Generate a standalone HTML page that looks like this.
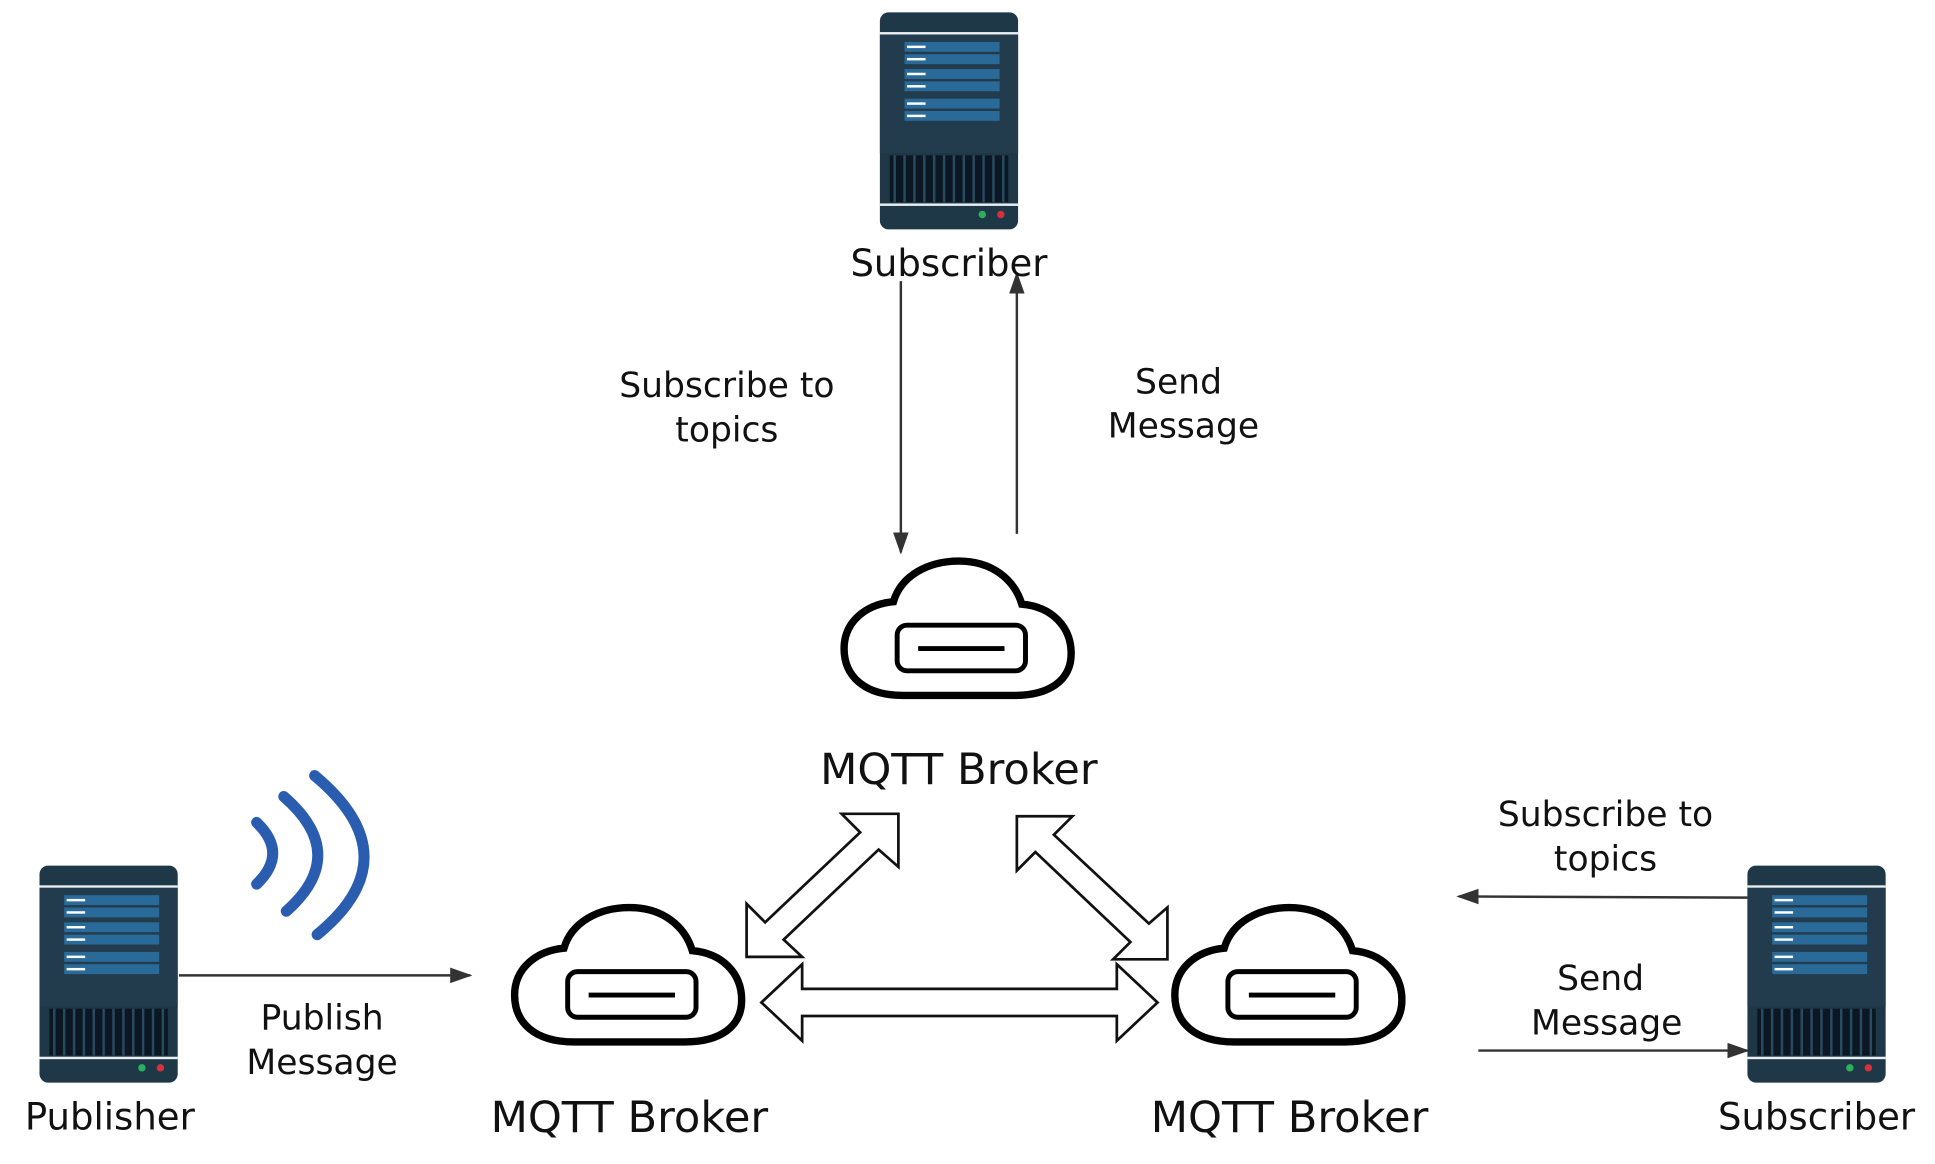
<!DOCTYPE html>
<html><head><meta charset="utf-8"><style>
html,body{margin:0;padding:0;background:#fff;}
svg{display:block;}
text{font-family:"DejaVu Sans","Liberation Sans",sans-serif;fill:#111;}
</style></head><body>
<svg width="1935" height="1164" viewBox="0 0 1568 944" preserveAspectRatio="none" xmlns="http://www.w3.org/2000/svg">
<defs>
<marker id="ah2" viewBox="0 0 10 10" refX="9" refY="5" markerWidth="18" markerHeight="18" markerUnits="userSpaceOnUse" orient="auto"><path d="M0,1.5 L10,5 L0,8.5 Z" fill="#333"/></marker>
<g id="srv">
<rect x="0" y="0" width="112" height="176" rx="7" fill="#1f3848"/>
<rect x="0" y="16" width="112" height="2" fill="#e8eef2"/>
<rect x="0" y="18" width="112" height="96" fill="#223c4d"/>
<g fill="#2a6a98">
<rect x="20" y="24" width="77" height="8"/><rect x="20" y="34" width="77" height="8"/>
<rect x="20" y="46" width="77" height="8"/><rect x="20" y="56" width="77" height="8"/>
<rect x="20" y="70" width="77" height="8"/><rect x="20" y="80" width="77" height="8"/>
</g>
<g fill="#fff">
<rect x="22" y="27" width="15" height="2"/><rect x="22" y="37" width="15" height="2"/>
<rect x="22" y="49" width="15" height="2"/><rect x="22" y="59" width="15" height="2"/>
<rect x="22" y="73" width="15" height="2"/><rect x="22" y="83" width="15" height="2"/>
</g>
<rect x="8" y="116" width="96" height="38" fill="#0b1722"/>
<g stroke="#2a4a60" stroke-width="2">
<line x1="12" y1="116" x2="12" y2="154"/><line x1="20" y1="116" x2="20" y2="154"/><line x1="28" y1="116" x2="28" y2="154"/><line x1="36" y1="116" x2="36" y2="154"/><line x1="44" y1="116" x2="44" y2="154"/><line x1="52" y1="116" x2="52" y2="154"/><line x1="60" y1="116" x2="60" y2="154"/><line x1="68" y1="116" x2="68" y2="154"/><line x1="76" y1="116" x2="76" y2="154"/><line x1="84" y1="116" x2="84" y2="154"/><line x1="92" y1="116" x2="92" y2="154"/><line x1="100" y1="116" x2="100" y2="154"/>
</g>
<rect x="0" y="155" width="112" height="2" fill="#e8eef2"/>
<circle cx="83" cy="164" r="3" fill="#2eb05a"/><circle cx="98" cy="164" r="3" fill="#d8303a"/>
</g>
<g id="cloud">
<path d="M50,112 C18,112 2,96 2,74 C2,52 20,38 42,36 C48,15 70,3 95,3 C122,3 140,18 146,38 C170,40 186,56 186,78 C186,100 168,112 140,112 Z" fill="#fff" stroke="#000" stroke-width="6"/>
<rect x="45" y="55" width="104" height="37" rx="8" fill="none" stroke="#000" stroke-width="4"/>
<line x1="62" y1="74" x2="132" y2="74" stroke="#000" stroke-width="4"/>
</g>
</defs>

<use href="#srv" x="713" y="10"/>
<use href="#srv" x="32" y="702"/>
<use href="#srv" x="1416" y="702"/>

<use href="#cloud" x="682" y="452"/>
<use href="#cloud" x="415" y="733"/>
<use href="#cloud" x="950" y="733"/>

<g fill="none" stroke="#2a5db0" stroke-width="9" stroke-linecap="round">
<path d="M208,667 Q234,692 208,717"/>
<path d="M230,646 Q284,693 232,739"/>
<path d="M255,629 Q334,695 257,758"/>
</g>

<g stroke="#333" stroke-width="2" fill="none">
<line x1="730" y1="228" x2="730" y2="448" marker-end="url(#ah2)"/>
<line x1="824" y1="433" x2="824" y2="222" marker-end="url(#ah2)"/>
<line x1="145" y1="791" x2="381" y2="791" marker-end="url(#ah2)"/>
<line x1="1416" y1="728" x2="1182" y2="727" marker-end="url(#ah2)"/>
<line x1="1198" y1="852" x2="1416" y2="852" marker-end="url(#ah2)"/>
</g>

<g fill="#fff" stroke="#111" stroke-width="2.2" stroke-linejoin="miter">
<polygon points="728,660 728,703 712,689 635,762 650,776 605,776 605,733 620,748 697,675 682,660"/>
<polygon points="824,662 869,662 854,677 931,749 946,736 946,778 902,778 916,764 839,691 824,706"/>
<polygon points="617,813 650,782 650,802 905,802 905,782 938,813 905,844 905,824 650,824 650,844"/>
</g>

<g text-anchor="middle">
<text x="769" y="224" font-size="30">Subscriber</text>
<text x="777" y="636" font-size="35">MQTT Broker</text>
<text x="510" y="918" font-size="35">MQTT Broker</text>
<text x="1045" y="918" font-size="35">MQTT Broker</text>
<text x="89" y="916" font-size="30">Publisher</text>
<text x="1472" y="916" font-size="30">Subscriber</text>
<text x="589" y="322" font-size="28">Subscribe to</text>
<text x="589" y="358" font-size="28">topics</text>
<text x="955" y="319" font-size="28">Send</text>
<text x="959" y="355" font-size="28">Message</text>
<text x="1301" y="670" font-size="28">Subscribe to</text>
<text x="1301" y="706" font-size="28">topics</text>
<text x="1297" y="803" font-size="28">Send</text>
<text x="1302" y="839" font-size="28">Message</text>
<text x="261" y="835" font-size="28">Publish</text>
<text x="261" y="871" font-size="28">Message</text>
</g>
</svg>
</body></html>
